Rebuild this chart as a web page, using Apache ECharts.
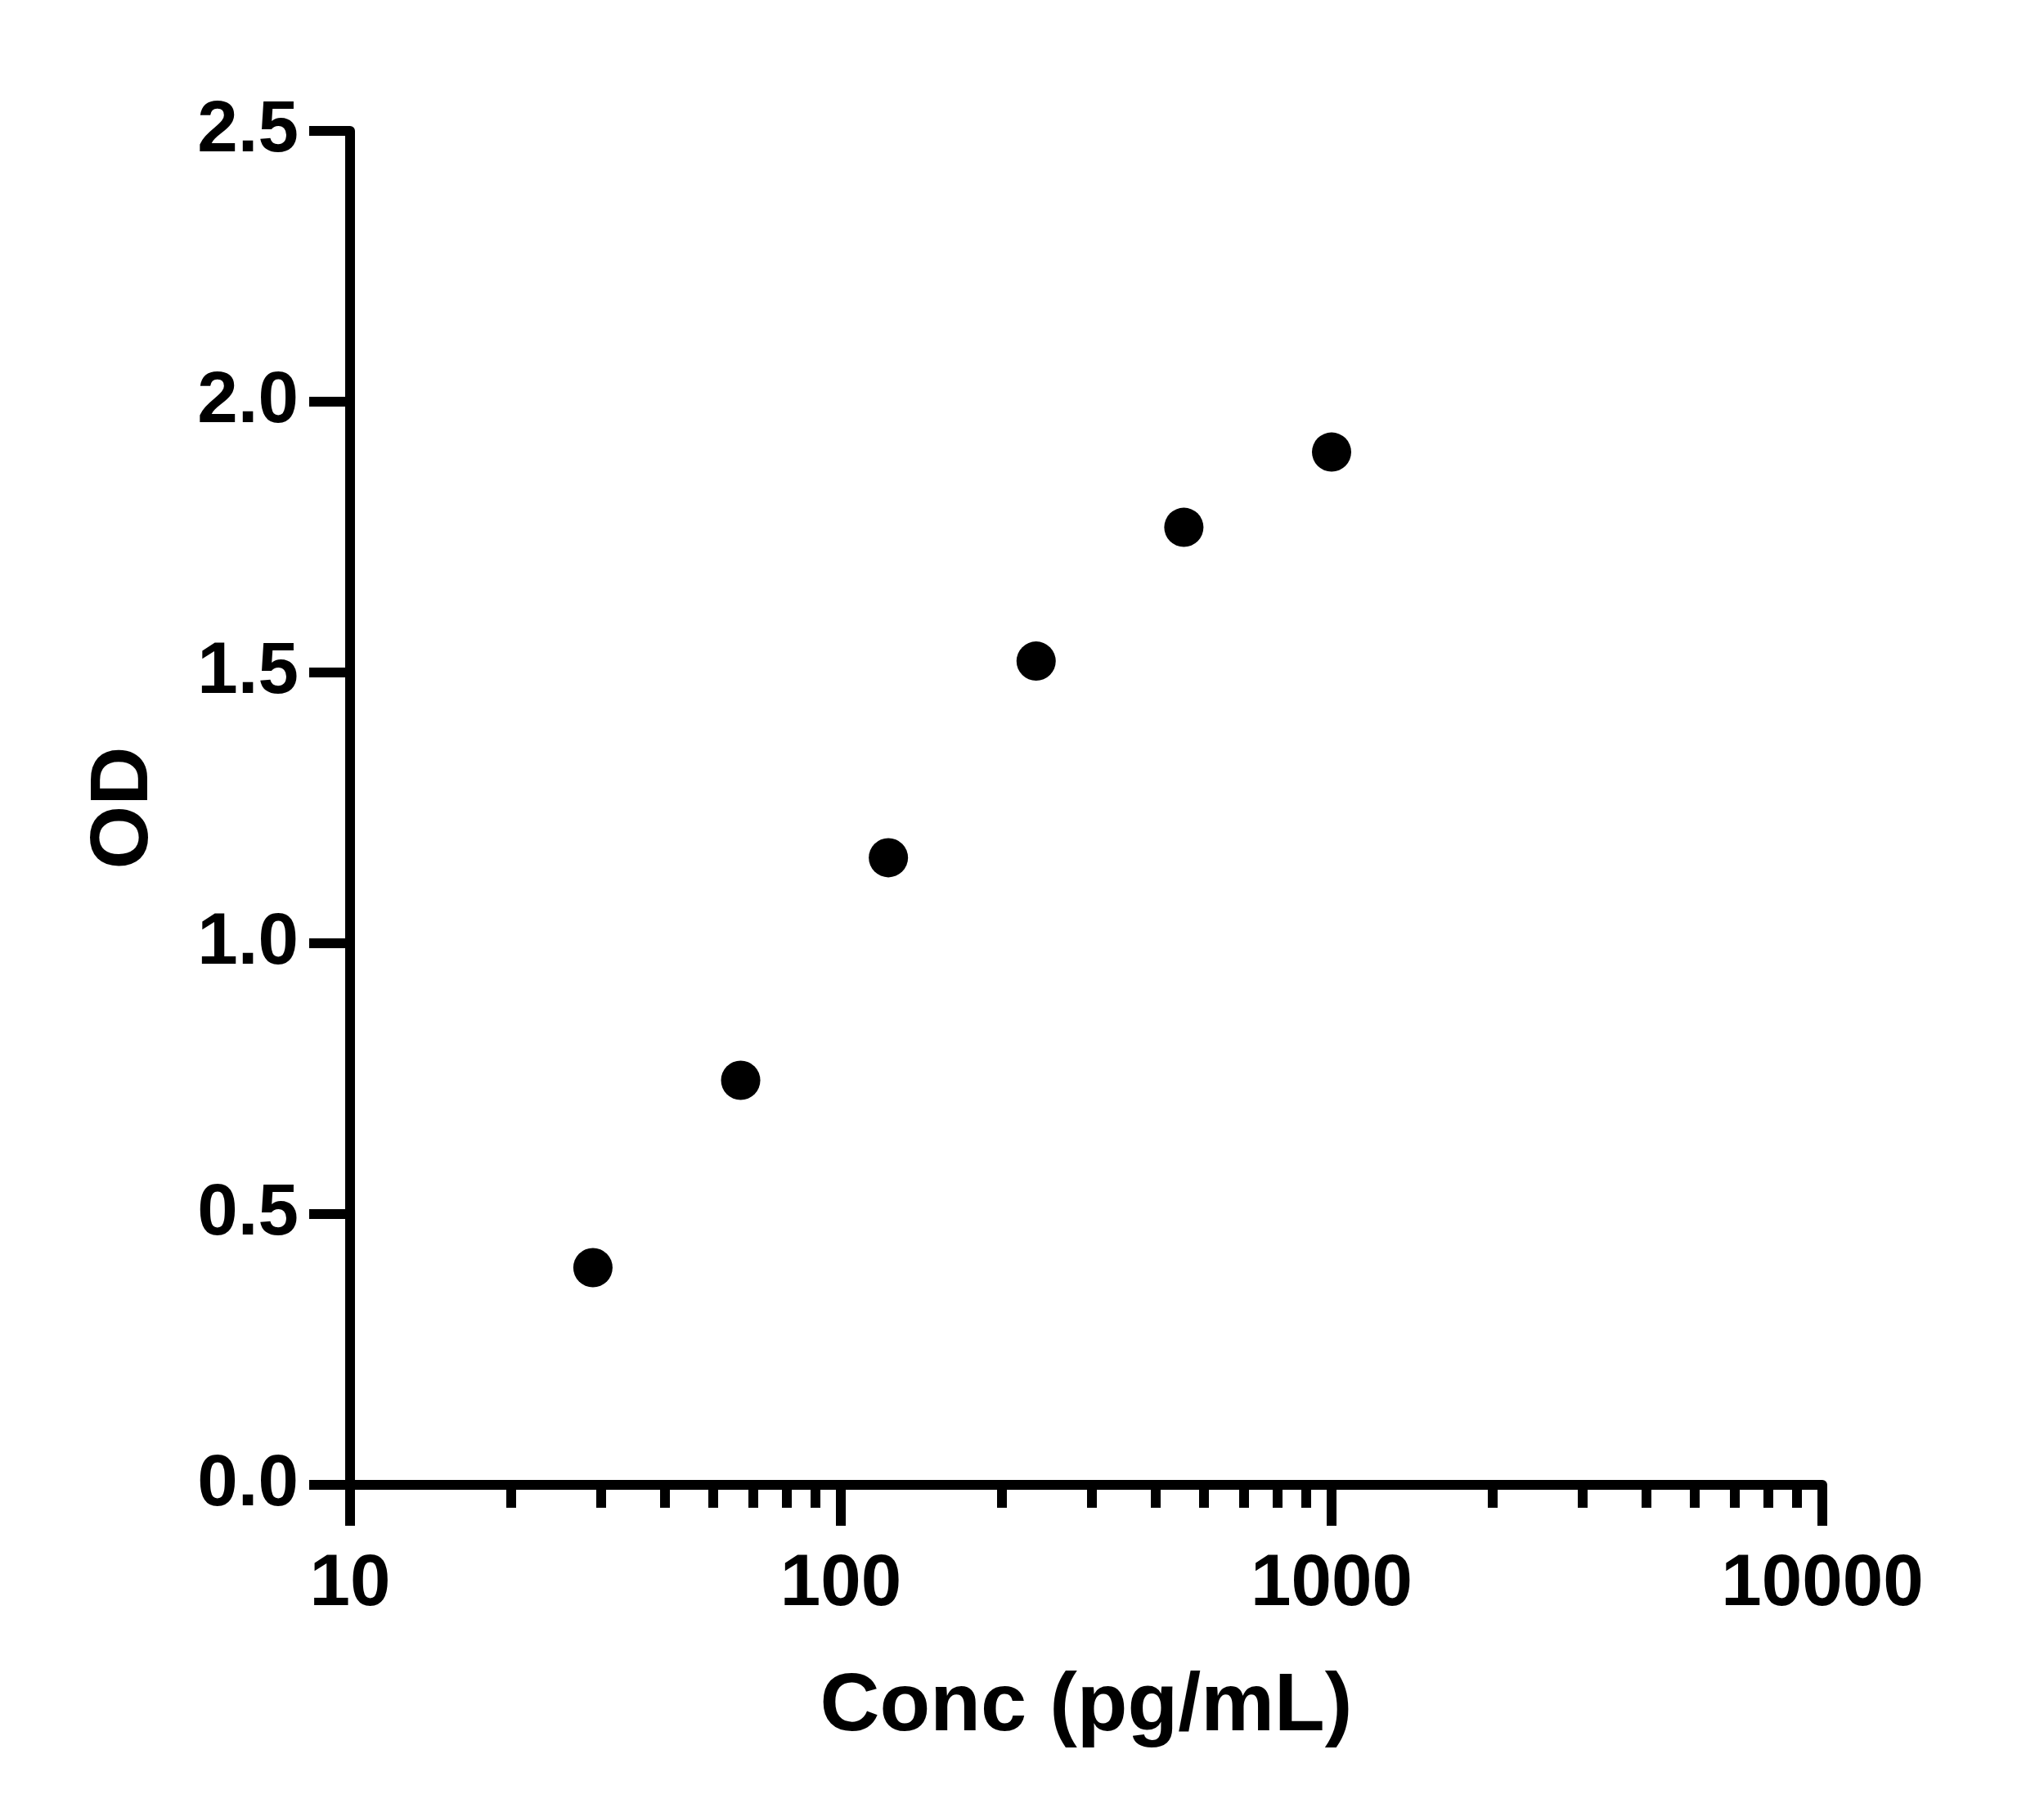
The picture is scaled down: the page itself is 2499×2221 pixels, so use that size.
<!DOCTYPE html>
<html>
<head>
<meta charset="utf-8">
<script src="https://cdn.jsdelivr.net/npm/echarts@6/dist/echarts.min.js"></script>
<style>
  html, body { margin: 0; padding: 0; background: #fff; }
  #chart { width: 2499px; height: 2221px; }
</style>
</head>
<body>
<div id="chart"></div>
<script>
// standard curve points
var concValues = [31.25, 62.5, 125, 250, 500, 1000];
var odValues = [0.401, 0.747, 1.158, 1.521, 1.768, 1.907];

var xMajorTicks = [10, 100, 1000, 10000];
// minor ticks as placed in the original (8 even steps per decade)
var xMinorTicks = [21.25, 32.5, 43.75, 55, 66.25, 77.5, 88.75,
                   212.5, 325, 437.5, 550, 662.5, 775, 887.5,
                   2125, 3250, 4375, 5500, 6625, 7750, 8875];
var yTicks = [0, 0.5, 1.0, 1.5, 2.0, 2.5];

var fontName = '"Liberation Sans", Arial, sans-serif';

var points = [];
for (var i = 0; i < concValues.length; i++) {
    points.push([concValues[i], odValues[i]]);
}

var chart = echarts.init(document.getElementById('chart'));
var option = {
    backgroundColor: '#fff',
    animation: false,
    grid: {
        left: 428,
        right: 271,
        top: 160,
        bottom: 406,
        containLabel: false
    },
    xAxis: [
        {
            type: 'log',
            logBase: 10,
            min: 10,
            max: 10000,
            position: 'bottom',
            name: 'Conc (pg/mL)',
            nameLocation: 'middle',
            nameGap: 222,
            nameTextStyle: {
                color: '#000',
                fontSize: 101,
                fontWeight: 'bold',
                fontFamily: fontName
            },
            axisLine: { show: true, lineStyle: { color: '#000', width: 12 } },
            axisTick: {
                show: true,
                length: 50,
                customValues: xMajorTicks,
                lineStyle: { color: '#000', width: 12 }
            },
            axisLabel: {
                show: true,
                margin: 78,
                customValues: xMajorTicks,
                color: '#000',
                fontSize: 89,
                fontWeight: 'bold',
                fontFamily: fontName,
                formatter: function (v) { return String(Math.round(v)); }
            },
            splitLine: { show: false },
            minorTick: { show: false }
        },
        {
            // minor ticks only
            type: 'log',
            logBase: 10,
            min: 10,
            max: 10000,
            position: 'bottom',
            axisLine: { show: false },
            axisTick: {
                show: true,
                length: 28,
                customValues: xMinorTicks,
                lineStyle: { color: '#000', width: 12 }
            },
            axisLabel: { show: false },
            splitLine: { show: false }
        }
    ],
    yAxis: {
        type: 'value',
        min: 0,
        max: 2.5,
        interval: 0.5,
        name: 'OD',
        nameLocation: 'middle',
        nameGap: 226,
        nameTextStyle: {
            color: '#000',
            fontSize: 100,
            fontWeight: 'bold',
            fontFamily: fontName
        },
        axisLine: { show: true, onZero: false, lineStyle: { color: '#000', width: 12 } },
        axisTick: { show: true, length: 50, lineStyle: { color: '#000', width: 12 } },
        axisLabel: {
            margin: 63,
            color: '#000',
            fontSize: 89,
            fontWeight: 'bold',
            fontFamily: fontName,
            formatter: function (v) { return v.toFixed(1); }
        },
        splitLine: { show: false }
    },
    series: [
        {
            name: 'OD',
            type: 'scatter',
            xAxisIndex: 0,
            symbol: 'circle',
            symbolSize: 48,
            itemStyle: { color: '#000', opacity: 1 },
            data: points
        }
    ]
};
chart.setOption(option);
</script>
</body>
</html>
